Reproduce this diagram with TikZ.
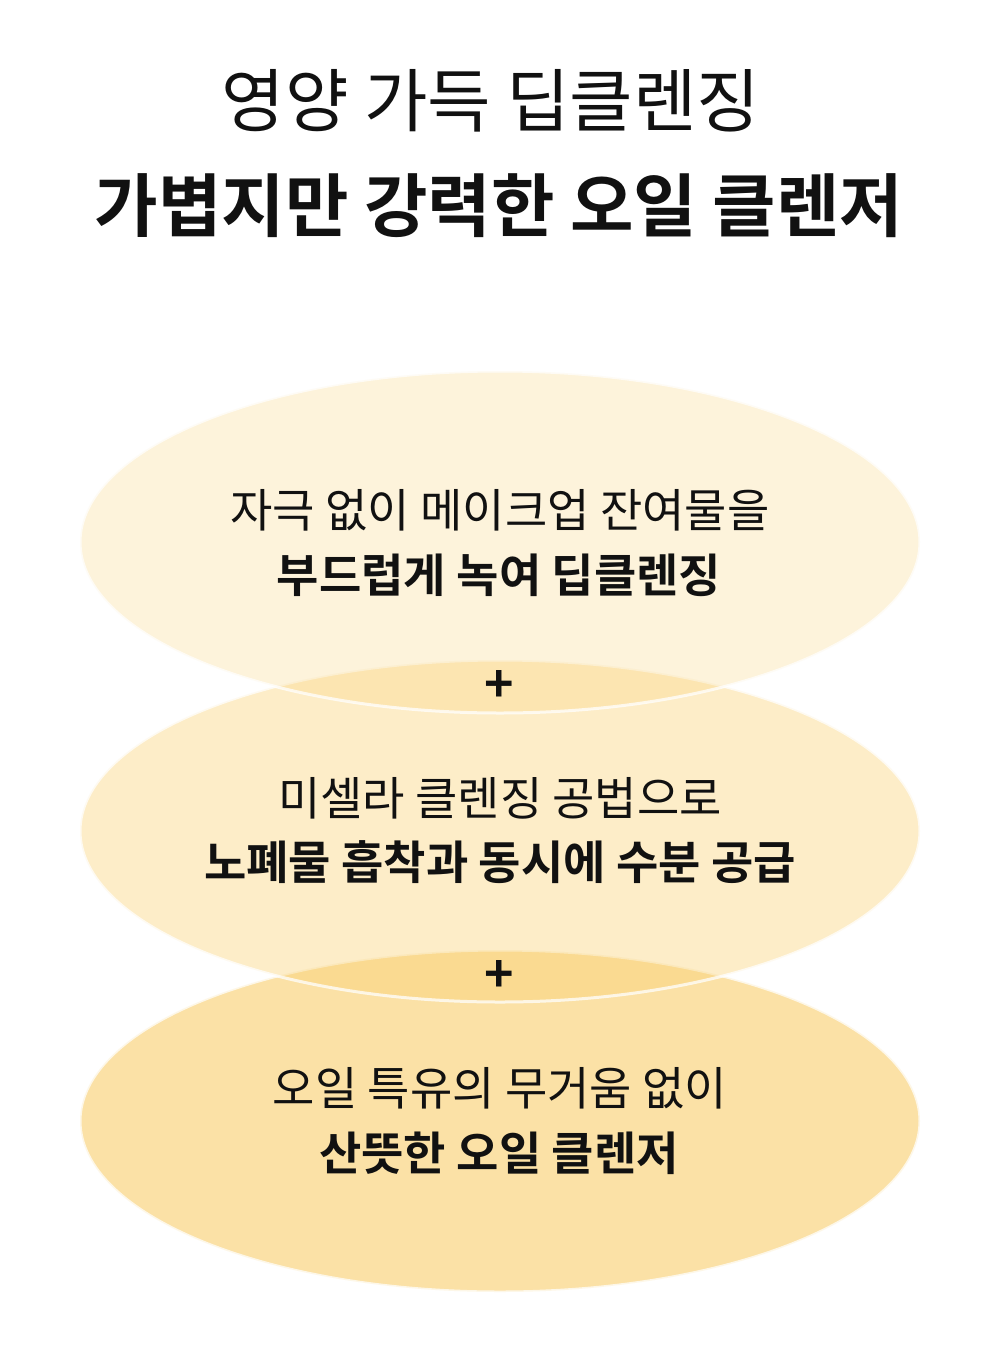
\documentclass[tikz,border=0pt]{standalone}
\usepackage{fontspec}
\usetikzlibrary{shapes.geometric}
\newfontfamily\kr{Noto Sans CJK KR}
\newfontfamily\krb{Noto Sans CJK KR Bold}
\definecolor{base}{HTML}{FAD070}
\definecolor{ink}{HTML}{111111}
\tikzset{
  blob/.style={ellipse, inner sep=0pt, minimum width=840pt, minimum height=342pt,
    fill=base, draw=white, line width=3pt, draw opacity=0.75},
  lineA/.style={text=ink, font=\kr\fontsize{46}{50}\selectfont, inner sep=0pt, anchor=center},
  lineB/.style={text=ink, font=\krb\fontsize{46}{50}\selectfont, inner sep=0pt, anchor=center},
  plus/.style={text=ink, font=\krb\fontsize{50}{50}\selectfont, inner sep=0pt, anchor=center}
}
\begin{document}
\begin{tikzpicture}[x=1pt,y=-1pt]
\useasboundingbox[fill=white] (0,0) rectangle (1000,1371);
\node[text=ink, font=\kr\fontsize{69}{70}\selectfont, inner sep=0pt] (t1) at (491,101) {영양 가득 딥클렌징};
\node[text=ink, font=\krb\fontsize{69}{76}\selectfont, inner sep=0pt] (t2) at (499,206) {가볍지만 강력한 오일 클렌저};

\node[blob, fill opacity=0.62] (e3) at (500,1121) {};
\node[blob, fill opacity=0.38] (e2) at (500,831) {};
\node[blob, fill opacity=0.25] (e1) at (500,542) {};

\node[lineA] (a1) at (500,510) {자극 없이 메이크업 잔여물을};
\node[lineB] (a2) at (499,575) {부드럽게 녹여 딥클렌징};
\node[plus] (p1) at (499,686) {+};
\node[lineA] (b1) at (500,798) {미셀라 클렌징 공법으로};
\node[lineB] (b2) at (500,862) {노폐물 흡착과 동시에 수분 공급};
\node[plus] (p2) at (499,976) {+};
\node[lineA] (c1) at (500,1088) {오일 특유의 무거움 없이};
\node[lineB] (c2) at (499,1153) {산뜻한 오일 클렌저};
\end{tikzpicture}
\end{document}
